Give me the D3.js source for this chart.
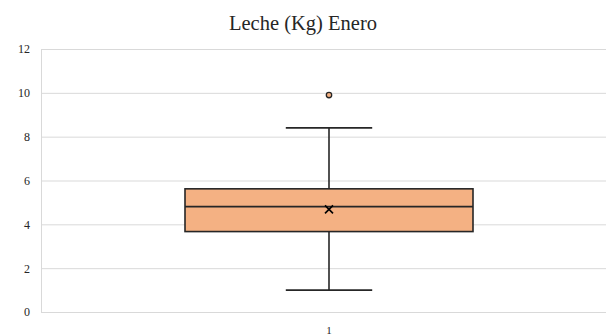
<!DOCTYPE html>
<html>
<head>
<meta charset="utf-8">
<script src="https://cdn.jsdelivr.net/npm/d3@7"></script>
<style>
  body { margin: 0; background: #fff; }
  text { font-family: "Liberation Serif", "Times New Roman", serif; }
</style>
</head>
<body>
<div id="chart"></div>
<script>
// Data
let categories = ["1"];
let minValues = [1.0];
let q1Values = [3.67];
let medianValues = [4.81];
let meanValues = [4.68];
let q3Values = [5.62];
let maxValues = [8.4];
let outliers = [[9.9]];
let yTicks = [0, 2, 4, 6, 8, 10, 12];

let width = 606, height = 336;
let margin = {top: 49, right: -11, bottom: 24, left: 41};

let svg = d3.select("#chart").append("svg")
    .attr("width", width)
    .attr("height", height);

let x = d3.scaleBand()
    .domain(categories)
    .range([margin.left, width - margin.right]);

let y = d3.scaleLinear()
    .domain([0, 12])
    .range([height - margin.bottom, margin.top]);

// Gridlines
svg.append("g")
    .selectAll("line")
    .data(yTicks)
    .enter()
    .append("line")
    .attr("x1", margin.left)
    .attr("x2", width - margin.right)
    .attr("y1", d => y(d) + 0.5)
    .attr("y2", d => y(d) + 0.5)
    .attr("stroke", "#d9d9d9")
    .attr("stroke-width", 1);

// Left axis line
svg.append("line")
    .attr("x1", margin.left + 0.5)
    .attr("x2", margin.left + 0.5)
    .attr("y1", y(12))
    .attr("y2", y(0))
    .attr("stroke", "#d9d9d9");

// Y axis labels
let yAxis = d3.axisLeft(y).tickValues(yTicks).tickSize(0).tickPadding(11);
let yg = svg.append("g")
    .attr("transform", `translate(${margin.left},0)`)
    .call(yAxis);
yg.select(".domain").remove();
yg.selectAll("text")
    .style("font-family", "Liberation Serif, serif")
    .style("font-size", "12px")
    .attr("fill", "#262626");

// X axis label
let xAxis = d3.axisBottom(x).tickSize(0).tickPadding(14);
let xg = svg.append("g")
    .attr("transform", `translate(0,${y(0)})`)
    .call(xAxis);
xg.select(".domain").remove();
xg.selectAll("text")
    .style("font-family", "Liberation Serif, serif")
    .style("font-size", "11px")
    .attr("fill", "#262626");

// Boxes
let boxes = svg.append("g")
    .selectAll("g")
    .data(categories)
    .enter()
    .append("g");

let bw = x.bandwidth() * 0.5;
let cw = x.bandwidth() * 0.075;
let cx = d => x(d) + x.bandwidth() / 2;

boxes.each(function (d, i) {
    let g = d3.select(this);
    let c = cx(d);

    // whiskers
    g.append("line")
        .attr("x1", c).attr("x2", c)
        .attr("y1", y(maxValues[i])).attr("y2", y(q3Values[i]))
        .attr("stroke", "#262626").attr("stroke-width", 1.6);
    g.append("line")
        .attr("x1", c).attr("x2", c)
        .attr("y1", y(q1Values[i])).attr("y2", y(minValues[i]))
        .attr("stroke", "#262626").attr("stroke-width", 1.6);
    g.append("line")
        .attr("x1", c - cw).attr("x2", c + cw)
        .attr("y1", y(maxValues[i])).attr("y2", y(maxValues[i]))
        .attr("stroke", "#262626").attr("stroke-width", 1.6);
    g.append("line")
        .attr("x1", c - cw).attr("x2", c + cw)
        .attr("y1", y(minValues[i])).attr("y2", y(minValues[i]))
        .attr("stroke", "#262626").attr("stroke-width", 1.6);

    // box
    g.append("rect")
        .attr("x", c - bw / 2)
        .attr("y", y(q3Values[i]))
        .attr("width", bw)
        .attr("height", y(q1Values[i]) - y(q3Values[i]))
        .attr("fill", "#f4b183")
        .attr("stroke", "#262626")
        .attr("stroke-width", 1.6);

    // median
    g.append("line")
        .attr("x1", c - bw / 2).attr("x2", c + bw / 2)
        .attr("y1", y(medianValues[i])).attr("y2", y(medianValues[i]))
        .attr("stroke", "#262626").attr("stroke-width", 1.6);

    // mean marker
    let my = y(meanValues[i]), s = 4;
    g.append("path")
        .attr("d", `M${c - s},${my - s}L${c + s},${my + s}M${c - s},${my + s}L${c + s},${my - s}`)
        .attr("stroke", "#000").attr("stroke-width", 1.6);

    // outliers
    g.selectAll("circle")
        .data(outliers[i])
        .enter()
        .append("circle")
        .attr("cx", c)
        .attr("cy", v => y(v))
        .attr("r", 2.7)
        .attr("fill", "#f4b183")
        .attr("stroke", "#262626")
        .attr("stroke-width", 1.3);
});

// Title
svg.append("text")
    .attr("x", width / 2)
    .attr("y", 30)
    .attr("text-anchor", "middle")
    .style("font-size", "20.5px")
    .attr("fill", "#262626")
    .text("Leche (Kg) Enero");
</script>
</body>
</html>
